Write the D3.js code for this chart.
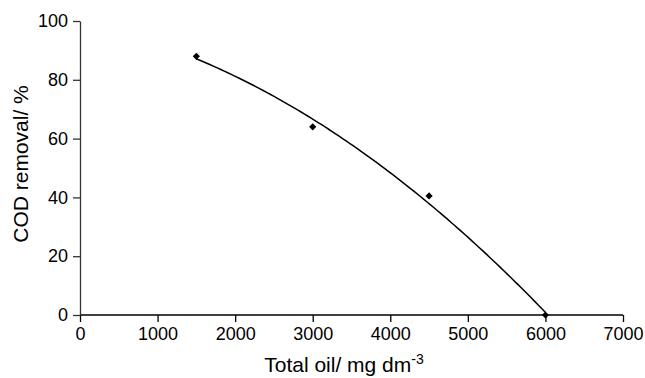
<!DOCTYPE html>
<html>
<head>
<meta charset="utf-8">
<script src="https://cdn.jsdelivr.net/npm/d3@7"></script>
<style>
  html, body { margin: 0; padding: 0; background: #fff; }
  svg { display: block; font-family: "Liberation Sans", Arial, Helvetica, sans-serif; }
</style>
</head>
<body>
<svg id="chart" width="645" height="378"></svg>
<script>
// Measured COD removal against total oil concentration
const totalOil = [1500, 3000, 4500, 6000];
const codRemoval = [88, 64, 40.5, 0];
const xTicks = [0, 1000, 2000, 3000, 4000, 5000, 6000, 7000];
const yTicks = [0, 20, 40, 60, 80, 100];

const svg = d3.select("#chart");
const x = d3.scaleLinear().domain([0, 7000]).range([80, 623]);
const y = d3.scaleLinear().domain([0, 100]).range([315, 21]);

// Second-order least-squares trendline through the measured points
function quadFit(xs, ys) {
  const n = xs.length;
  let s = [0, 0, 0, 0, 0], t = [0, 0, 0];
  for (let i = 0; i < n; i++) {
    const u = xs[i] / 1000;
    for (let k = 0; k < 5; k++) s[k] += Math.pow(u, k);
    for (let k = 0; k < 3; k++) t[k] += ys[i] * Math.pow(u, k);
  }
  const A = [[s[0], s[1], s[2], t[0]], [s[1], s[2], s[3], t[1]], [s[2], s[3], s[4], t[2]]];
  for (let c = 0; c < 3; c++) {
    for (let r = c + 1; r < 3; r++) {
      const f = A[r][c] / A[c][c];
      for (let k = c; k < 4; k++) A[r][k] -= f * A[c][k];
    }
  }
  const coef = [0, 0, 0];
  for (let r = 2; r >= 0; r--) {
    let v = A[r][3];
    for (let k = r + 1; k < 3; k++) v -= A[r][k] * coef[k];
    coef[r] = v / A[r][r];
  }
  return xv => { const u = xv / 1000; return coef[0] + coef[1] * u + coef[2] * u * u; };
}
const fit = quadFit(totalOil, codRemoval);
const xs0 = d3.min(totalOil), xs1 = d3.max(totalOil);
const trend = d3.range(0, 101).map(i => {
  const xv = xs0 + (xs1 - xs0) * i / 100;
  return [xv, fit(xv)];
});

// Axes
const xAxis = svg.append("g").attr("transform", "translate(0,315)")
  .call(d3.axisBottom(x).tickValues(xTicks).tickFormat(d3.format("d")).tickSize(7).tickPadding(5).tickSizeOuter(0));
const yAxis = svg.append("g").attr("transform", "translate(80,0)")
  .call(d3.axisLeft(y).tickValues(yTicks).tickFormat(d3.format("d")).tickSize(7).tickPadding(5).tickSizeOuter(0));

[xAxis, yAxis].forEach(g => {
  g.selectAll("text").attr("font-size", 18).attr("fill", "#000")
    .attr("font-family", "'Liberation Sans', Arial, sans-serif");
  g.selectAll("line").attr("stroke-width", 1.3);
  g.select(".domain").attr("stroke-width", 1.3);
});
xAxis.selectAll("line, .domain").attr("stroke", "#000");
yAxis.selectAll("line, .domain").attr("stroke", "#333");
// domain for x axis spans full width
xAxis.select(".domain").attr("d", `M${x(0)},0H${x(7000)}`);

// Trendline
svg.append("path")
  .datum(trend)
  .attr("fill", "none")
  .attr("stroke", "#000")
  .attr("stroke-width", 1.5)
  .attr("d", d3.line().x(d => x(d[0])).y(d => y(d[1])));

// Diamond markers (square turned 45 degrees)
const marker = d3.symbol().type(d3.symbolSquare).size(26);
svg.append("g").selectAll("path")
  .data(totalOil.map((v, i) => [v, codRemoval[i]]))
  .join("path")
  .attr("d", marker)
  .attr("transform", d => `translate(${x(d[0])},${y(d[1])}) rotate(45)`)
  .attr("fill", "#000");

// Axis titles
const xt = svg.append("text")
  .attr("x", 344).attr("y", 372)
  .attr("text-anchor", "middle")
  .attr("font-size", 21)
  .attr("fill", "#000");
xt.append("tspan").text("Total oil/ mg dm");
xt.append("tspan").attr("dy", -8).attr("font-size", 14).text("-3");

svg.append("text")
  .attr("transform", "translate(28,164) rotate(-90)")
  .attr("text-anchor", "middle")
  .attr("font-size", 21)
  .attr("fill", "#000")
  .text("COD removal/ %");
</script>
</body>
</html>
